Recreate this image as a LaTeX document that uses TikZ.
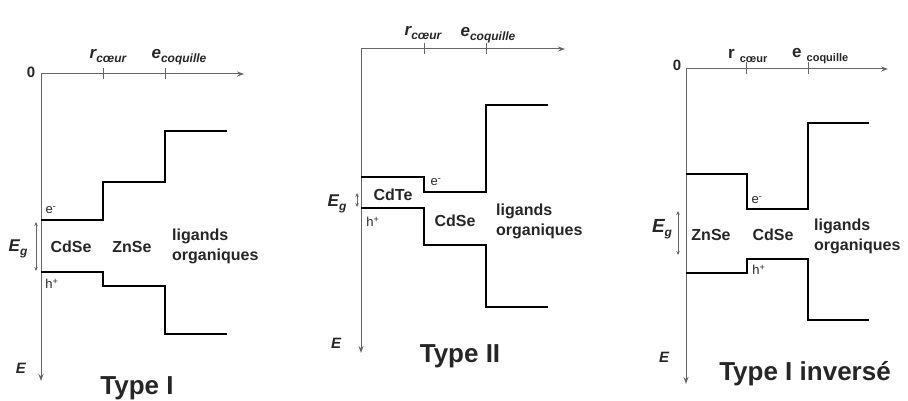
\documentclass[tikz,border=0pt]{standalone}
\usepackage{fontspec}
\setmainfont{Liberation Sans}
\usetikzlibrary{arrows.meta}

% main letter followed by a lowered, smaller subscript
\newcommand{\mainsub}[3]{{\fontsize{#1}{#1}\selectfont #2}{\fontsize{12}{13}\selectfont\raisebox{-3.5pt}{#3}}}
\newcommand{\mainsubsmall}[3]{{\fontsize{#1}{#1}\selectfont #2}{\fontsize{11}{12}\selectfont\raisebox{-3.5pt}{#3}}}

\begin{document}
\begin{tikzpicture}[x=1pt,y=-1pt,
  axis/.style={draw=black!60, line width=1pt},
  axisarrow/.style={axis, -{Stealth[length=7pt,width=5pt]}},
  tickmark/.style={draw=black!60, line width=1pt},
  level/.style={draw=black, line width=1.8pt, line join=miter, line cap=butt},
  gaparrow/.style={draw=black!60, line width=0.8pt,
    {Stealth[length=4pt,width=3.5pt]}-{Stealth[length=4pt,width=3.5pt]}},
  lbl/.style={inner sep=0pt, text=black!85},
  mat/.style={lbl, font=\fontsize{16}{18}\selectfont\bfseries},
  lig/.style={mat, anchor=west, align=left, font=\fontsize{16}{20}\selectfont\bfseries},
  carrier/.style={lbl, font=\fontsize{13}{15}\selectfont},
  elbl/.style={lbl, font=\bfseries\itshape\fontsize{15}{17}\selectfont},
  eglbl/.style={lbl, font=\bfseries\itshape},
  radlbl/.style={lbl, font=\bfseries\itshape},
  radlblup/.style={lbl, font=\bfseries, anchor=west},
  zerolbl/.style={lbl, font=\fontsize{15}{17}\selectfont\bfseries},
  title/.style={lbl, font=\fontsize{26}{30}\selectfont\bfseries},
]
\useasboundingbox (0,0) rectangle (908,401);

% ---------------- Type I ----------------
\coordinate (o1) at (41,74);
\coordinate (x1) at (244,74);
\coordinate (y1) at (41,381);
\draw[axisarrow] (o1) -- (x1);
\draw[axisarrow] (o1) -- (y1);
\coordinate (t1a) at (103,74);
\coordinate (t1b) at (165,74);
\draw[tickmark] ([yshift=-5pt]t1a) -- ([yshift=6pt]t1a);
\draw[tickmark] ([yshift=-5pt]t1b) -- ([yshift=6pt]t1b);
\node[zerolbl] (zero1) at (31,72) {0};
\node[radlbl] (r1) at (108,56) {\mainsub{17}{r}{cœur}};
\node[radlbl] (e1) at (179,57) {\mainsub{17}{e}{coquille}};
\node[elbl] (E1) at (21,368) {E};
\draw[level] (41,220) -- (103,220) -- (103,182) -- (165,182) -- (165,131) -- (227,131);
\draw[level] (41,272) -- (103,272) -- (103,286) -- (165,286) -- (165,334) -- (227,334);
\coordinate (g1t) at (36,222);
\coordinate (g1b) at (36,271);
\draw[gaparrow] (g1t) -- (g1b);
\node[eglbl] (Eg1) at (18,249) {\mainsub{17}{E}{g}};
\node[carrier] (el1) at (51,210) {e\textsuperscript{-}};
\node[carrier] (ho1) at (52,284) {h\textsuperscript{+}};
\node[mat] (cdse1) at (71,247) {CdSe};
\node[mat] (znse1) at (132,247) {ZnSe};
\node[lig] (lig1) at (172,246) {ligands\\organiques};
\node[title] (type1) at (137,388) {Type I};

% ---------------- Type II ----------------
\coordinate (o2) at (361,49);
\coordinate (x2) at (565,49);
\coordinate (y2) at (361,353);
\draw[axisarrow] (o2) -- (x2);
\draw[axisarrow] (o2) -- (y2);
\coordinate (t2a) at (424,49);
\coordinate (t2b) at (486,49);
\draw[tickmark] ([yshift=-5pt]t2a) -- ([yshift=6pt]t2a);
\draw[tickmark] ([yshift=-5pt]t2b) -- ([yshift=6pt]t2b);
\node[radlbl] (r2) at (423,33) {\mainsub{17}{r}{cœur}};
\node[radlbl] (e2) at (488,35) {\mainsub{17}{e}{coquille}};
\node[elbl] (E2) at (336,343) {E};
\draw[level] (361,177) -- (424,177) -- (424,192) -- (486,192) -- (486,105) -- (548,105);
\draw[level] (361,208) -- (424,208) -- (424,245) -- (486,245) -- (486,307) -- (548,307);
\coordinate (g2t) at (357,193);
\coordinate (g2b) at (357,207);
\draw[gaparrow] (g2t) -- (g2b);
\node[eglbl] (Eg2) at (337,204) {\mainsub{17}{E}{g}};
\node[carrier] (el2) at (436,182) {e\textsuperscript{-}};
\node[carrier] (ho2) at (373,222) {h\textsuperscript{+}};
\node[mat] (cdte2) at (393,195) {CdTe};
\node[mat] (cdse2) at (455,221) {CdSe};
\node[lig] (lig2) at (496,221) {ligands\\organiques};
\node[title] (type2) at (460,356) {Type II};

% ---------------- Type I inverse ----------------
\coordinate (o3) at (686,69);
\coordinate (x3) at (888,69);
\coordinate (y3) at (686,384);
\draw[axisarrow] (o3) -- (x3);
\draw[axisarrow] (o3) -- (y3);
\coordinate (t3a) at (746,69);
\coordinate (t3b) at (808,69);
\draw[tickmark] ([yshift=-5pt]t3a) -- ([yshift=7pt]t3a);
\draw[tickmark] ([yshift=-5pt]t3b) -- ([yshift=7pt]t3b);
\node[zerolbl] (zero3) at (677,65) {0};
\node[radlblup] (r3) at (728,56) {\mainsubsmall{17}{r}{\hspace{5pt}cœur}};
\node[radlblup] (e3) at (792,56) {\mainsubsmall{17}{e}{\hspace{5pt}coquille}};
\node[elbl] (E3) at (664,357) {E};
\draw[level] (686,174) -- (747,174) -- (747,209) -- (808,209) -- (808,123) -- (869,123);
\draw[level] (686,273) -- (747,273) -- (747,259) -- (808,259) -- (808,320) -- (869,320);
\coordinate (g3t) at (678,211);
\coordinate (g3b) at (678,255);
\draw[gaparrow] (g3t) -- (g3b);
\node[eglbl] (Eg3) at (662,229) {\mainsub{19}{E}{g}};
\node[carrier] (el3) at (757,200) {e\textsuperscript{-}};
\node[carrier] (ho3) at (759,270) {h\textsuperscript{+}};
\node[mat] (znse3) at (711,235) {ZnSe};
\node[mat] (cdse3) at (773,235) {CdSe};
\node[lig] (lig3) at (814,236) {ligands\\organiques};
\node[title] (type3) at (805,374) {Type I inversé};
\end{tikzpicture}
\end{document}
